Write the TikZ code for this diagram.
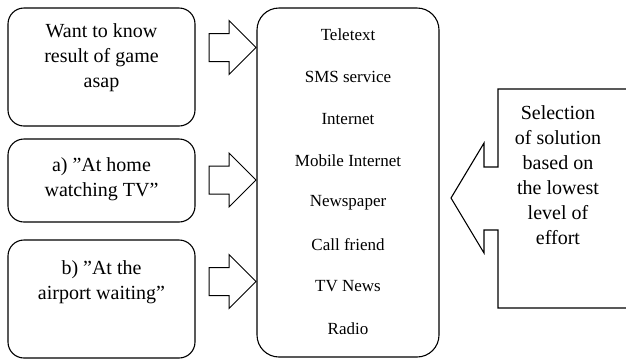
\documentclass[tikz,border=0pt]{standalone}
\usepackage{fontspec}
\setmainfont{Liberation Serif}
\usetikzlibrary{shapes.arrows}

\tikzset{
  srcbox/.style={draw, line width=1.1pt, rounded corners=16pt, minimum width=187pt},
  srctext/.style={align=center, font=\fontsize{20}{25}\selectfont},
  pushar/.style={draw, single arrow, line width=1pt, minimum height=47pt,
    single arrow head extend=13pt, inner xsep=0pt, inner ysep=13.5pt},
  chan/.style={font=\fontsize{17}{20}\selectfont}
}

\begin{document}
\begin{tikzpicture}[x=1pt, y=-1pt]
  \useasboundingbox (0,0) rectangle (626,360);
  \clip (0,0) rectangle (626,360);

  % situation boxes on the left
  \node[srcbox, minimum height=118pt] (want) at (101.5,67) {};
  \node[srctext] (wanttxt) at (101.5,58) {Want to know\\result of game\\asap};

  \node[srcbox, minimum height=83pt] (home) at (101.5,180.5) {};
  \node[srctext] (hometxt) at (101.5,179.5) {a) ”At home\\watching TV”};

  \node[srcbox, minimum height=118pt] (airport) at (101.5,299) {};
  \node[srctext] (airporttxt) at (101.5,282.5) {b) ”At the\\airport waiting”};

  % block arrows towards the channels
  \node[pushar] (ar1) at (225.5,47.5) {};
  \node[pushar] (ar2) at (225.5,180) {};
  \node[pushar] (ar3) at (225.5,281.5) {};

  % channels
  \node[draw, line width=1.1pt, rounded corners=22pt, minimum width=182pt, minimum height=349pt]
    (chans) at (348,182.5) {};
  \foreach \name/\txt [count=\i from 0] in {tele/Teletext, sms/SMS service, web/Internet,
      mweb/Mobile Internet, paper/Newspaper, call/Call friend, tvnews/TV News, radio/Radio}
    \node[chan] (\name) at (348,35+41.9*\i) {\txt};

  % selection callout
  \draw[line width=1.1pt] (640,89) -- (498,89) -- (498,167) -- (484,167) -- (484,143)
    -- (451,198) -- (484,253) -- (484,230) -- (498,230) -- (498,308) -- (640,308);
  \node[srctext] (select) at (558,175) {Selection\\of solution\\based on\\the lowest\\level of\\effort};
\end{tikzpicture}
\end{document}
